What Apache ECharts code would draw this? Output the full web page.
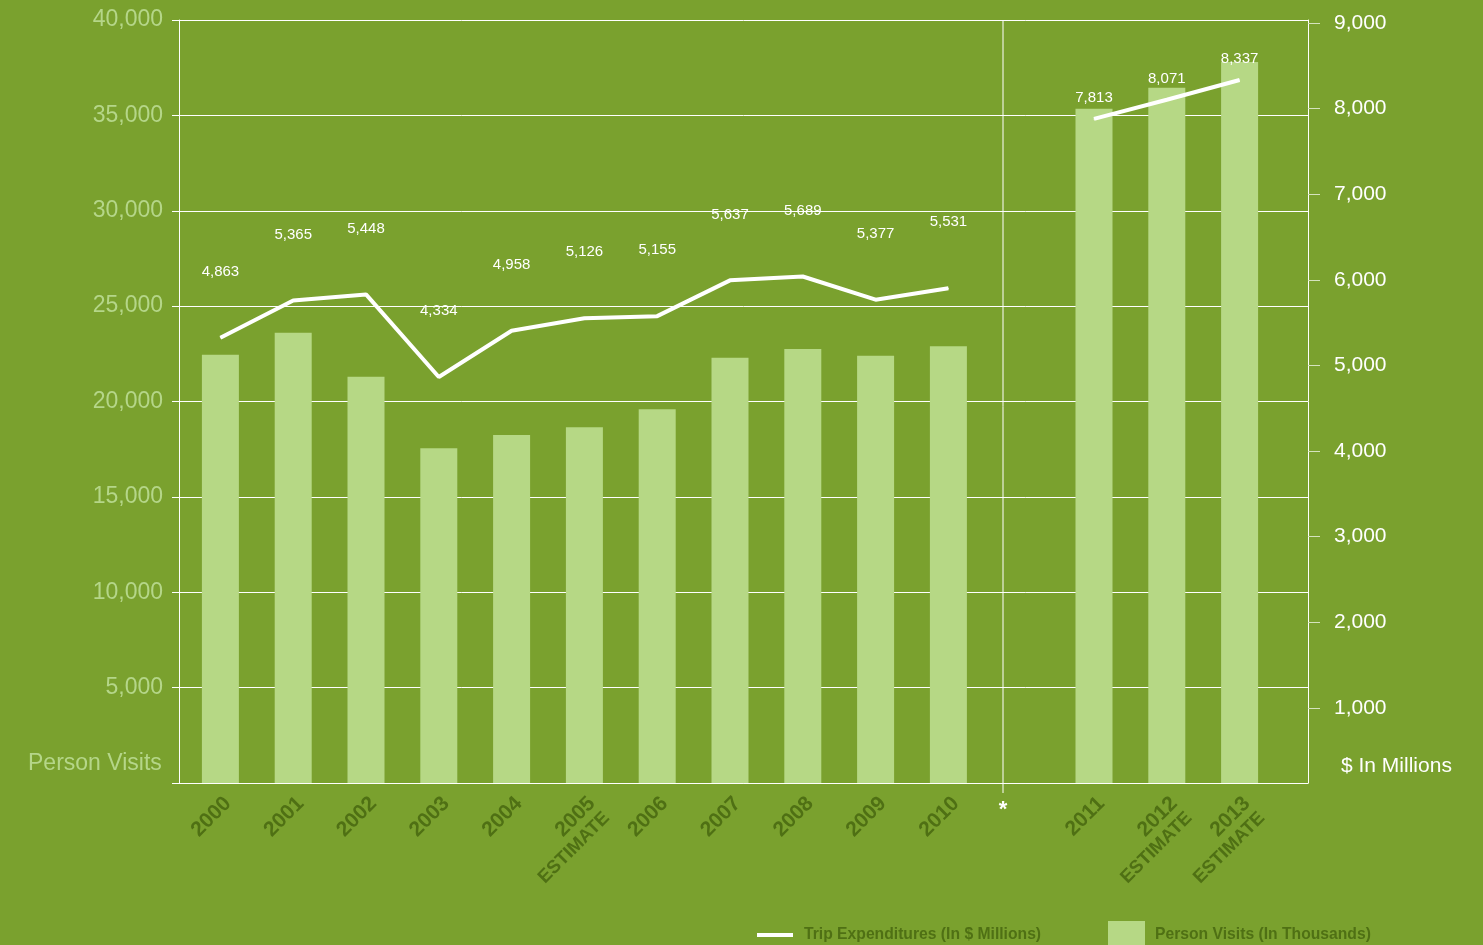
<!DOCTYPE html>
<html>
<head>
<meta charset="utf-8">
<style>
  html, body { margin: 0; padding: 0; background: #7aa12e; }
  #main { width: 1483px; height: 945px; }
</style>
<script src="https://cdn.jsdelivr.net/npm/echarts@6/dist/echarts.min.js"></script>
</head>
<body>
<div id="main"></div>
<script>
  // 数据
  var years = ['2000', '2001', '2002', '2003', '2004', '2005\nESTIMATE', '2006', '2007', '2008', '2009', '2010', '', '2011', '2012\nESTIMATE', '2013\nESTIMATE'];
  var personVisits = [22450, 23600, 21300, 17550, 18250, 18650, 19600, 22300, 22750, 22400, 22900, null, 35350, 36450, 37800];
  var tripSpend = [4863, 5365, 5448, 4334, 4958, 5126, 5155, 5637, 5689, 5377, 5531, null, 7813, 8071, 8337];
  var spendTicks = [1000, 2000, 3000, 4000, 5000, 6000, 7000, 8000, 9000];
  var breakAfter = '2010';

  var BG = '#7aa12e',
    BAR = '#b6d885',
    DARK = '#4f7014',
    LIGHT = '#b5d689',
    FONT = '"Liberation Sans", Arial, sans-serif',
    LINE_NAME = 'Trip Expenditures (In $ Millions)',
    BAR_NAME = 'Person Visits (In Thousands)';

  var spendEarly = tripSpend.map(function(v, i) { return i < 11 ? v : null; });
  var spendLate = tripSpend.map(function(v, i) { return i > 11 ? v : null; });

  var chart = echarts.init(document.getElementById('main'));

  function lineSeries(data, dist) {
    return {
      name: LINE_NAME,
      type: 'line',
      xAxisIndex: 1,
      yAxisIndex: 4,
      data: data,
      showSymbol: true,
      symbol: 'circle',
      symbolSize: 1,
      lineStyle: { color: '#fff', width: 4 },
      itemStyle: { color: '#fff' },
      label: {
        show: true,
        position: 'top',
        distance: dist,
        color: '#fff',
        fontSize: 15,
        fontFamily: FONT,
        formatter: function(p) { return echarts.format.addCommas(p.value); }
      },
      z: 5
    };
  }

  chart.setOption({
    backgroundColor: BG,
    animation: false,
    title: [
      { text: 'Person Visits', left: 23, top: 747, textStyle: { color: LIGHT, fontSize: 23, fontWeight: 'normal', fontFamily: FONT } },
      { text: '$ In Millions', left: 1336, top: 751, textStyle: { color: '#fff', fontSize: 21, fontWeight: 'normal', fontFamily: FONT } }
    ],
    legend: [
      {
        data: [LINE_NAME],
        left: 757, top: 927, padding: 0,
        icon: 'rect', itemWidth: 36, itemHeight: 4,
        textStyle: { color: DARK, fontSize: 15.7, fontWeight: 'bold', fontFamily: FONT, padding: [0, 0, 0, 6] }
      },
      {
        data: [BAR_NAME],
        left: 1108, top: 921, padding: 0,
        icon: 'rect', itemWidth: 37, itemHeight: 28,
        itemStyle: { color: BAR },
        textStyle: { color: DARK, fontSize: 15.7, fontWeight: 'bold', fontFamily: FONT, padding: [0, 0, 0, 5] }
      }
    ],
    grid: [
      { left: 179, right: 175, top: 20, bottom: 162 },
      { left: 184, right: 207, top: 20, bottom: 162 }
    ],
    xAxis: [
      {
        type: 'value', gridIndex: 0, min: 0, max: 1,
        axisLine: { show: true, lineStyle: { color: '#fff', width: 1 } },
        axisTick: { show: false }, axisLabel: { show: false }, splitLine: { show: false }
      },
      {
        type: 'category', gridIndex: 1, data: years,
        axisLine: { show: false }, axisTick: { show: false },
        axisLabel: {
          interval: 0, rotate: 45, margin: 10,
          color: DARK, fontSize: 21, fontWeight: 'bold', fontFamily: FONT,
          lineHeight: 21, verticalAlign: 'top',
          formatter: function(v) {
            var parts = v.split('\n');
            return parts.length > 1 ? parts[0] + '\n{e|' + parts[1] + '}' : v;
          },
          rich: {
            e: { color: DARK, fontSize: 18.5, fontWeight: 'bold', fontFamily: FONT, lineHeight: 21 }
          }
        }
      }
    ],
    yAxis: [
      {
        type: 'value', gridIndex: 0, position: 'left', min: 0, max: 40000, interval: 5000,
        axisLine: { show: true, lineStyle: { color: '#fff', width: 1 } },
        axisTick: { show: true, length: 7, lineStyle: { color: '#fff' } },
        axisLabel: {
          margin: 16, color: LIGHT, fontSize: 23, fontFamily: FONT, padding: [4, 0, 0, 0],
          formatter: function(v) { return v === 0 ? '' : echarts.format.addCommas(v); }
        },
        splitLine: { show: true, lineStyle: { color: '#fff', width: 1 } }
      },
      {
        type: 'value', gridIndex: 0, position: 'right', min: 121, max: 9035,
        axisLine: { show: true, lineStyle: { color: '#fff', width: 1 } },
        axisTick: { show: true, length: 12, customValues: spendTicks, lineStyle: { color: '#d5e3bd' } },
        axisLabel: {
          margin: 26, color: '#fff', fontSize: 21, fontFamily: FONT, customValues: spendTicks,
          formatter: function(v) { return echarts.format.addCommas(v); }
        },
        splitLine: { show: false }
      },
      // 数据用的隐藏轴
      { type: 'value', gridIndex: 1, min: 0, max: 40000, show: false },
      { type: 'value', gridIndex: 1, min: 121, max: 9035, show: false },
      { type: 'value', gridIndex: 1, min: -1137, max: 9146, show: false }
    ],
    series: [
      {
        name: BAR_NAME,
        type: 'bar',
        xAxisIndex: 1,
        yAxisIndex: 2,
        data: personVisits,
        barWidth: 37,
        itemStyle: { color: BAR }
      },
      lineSeries(spendEarly, 58),
      lineSeries(spendLate, 13)
    ]
  });

  // 分隔线
  var x1 = chart.convertToPixel({ xAxisIndex: 1 }, breakAfter),
    x2 = chart.convertToPixel({ xAxisIndex: 1 }, '2011'),
    xs = x1 + (x2 - x1) * 0.375,
    yTop = chart.convertToPixel({ yAxisIndex: 0 }, 40000),
    yBot = chart.convertToPixel({ yAxisIndex: 0 }, 0);

  chart.setOption({
    graphic: [
      {
        type: 'line',
        shape: { x1: xs, y1: yTop, x2: xs, y2: yBot + 10 },
        style: { stroke: '#fff', lineWidth: 1 }
      },
      {
        type: 'text',
        x: xs, y: yBot + 27,
        style: { text: '*', fill: '#fff', font: 'bold 22px ' + FONT, align: 'center', verticalAlign: 'middle' }
      }
    ]
  });
</script>
</body>
</html>
